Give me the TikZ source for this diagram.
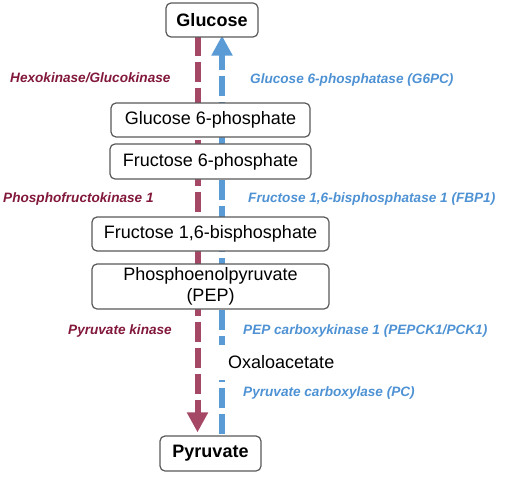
\documentclass[tikz,border=0pt]{standalone}
\usepackage{fontspec}
\setmainfont{Liberation Sans}
\usetikzlibrary{arrows.meta,backgrounds}
\definecolor{kinred}{RGB}{165,72,102}
\definecolor{kintext}{RGB}{130,24,58}
\definecolor{phosblue}{RGB}{91,155,213}
\definecolor{phostext}{RGB}{78,146,212}

\begin{document}
\begin{tikzpicture}[x=1pt,y=-1pt,
   metab/.style={draw=black!65,line width=1.2pt,rounded corners=5pt,fill=white,inner sep=0pt,align=center,font=\fontsize{18}{21.5}\selectfont},
   enzred/.style={anchor=west,inner sep=0pt,text=kintext,font=\fontsize{13.6}{16}\selectfont\bfseries\itshape},
   enzblue/.style={anchor=west,inner sep=0pt,text=phostext,font=\fontsize{13.6}{16}\selectfont\bfseries\itshape},
   glyco/.style={draw=kinred,line width=6pt,dash pattern=on 20pt off 6pt,-{Triangle[width=20pt,length=20pt]}},
   gluconeo/.style={draw=phosblue,line width=6pt,dash pattern=on 20pt off 6pt,-{Triangle[width=20pt,length=20pt]}}]
   \useasboundingbox (0,0) rectangle (510,476);
   % metabolites
   \node[metab,minimum width=92pt,minimum height=34pt,font=\fontsize{18}{21.5}\selectfont\bfseries] (glc) at (212,20) {Glucose};
   \node[metab,minimum width=199pt,minimum height=34pt] (g6p) at (210.5,120) {Glucose 6-phosphate};
   \node[metab,minimum width=201pt,minimum height=35pt] (f6p) at (210.5,161.5) {Fructose 6-phosphate};
   \node[metab,minimum width=237pt,minimum height=34pt] (fbp) at (210.5,234) {Fructose 1,6-bisphosphate};
   \node[metab,minimum width=237pt,minimum height=45pt] (pep) at (210.5,286.5) {Phosphoenolpyruvate\\(PEP)};
   \node[metab,minimum width=101pt,minimum height=35pt,font=\fontsize{18}{21.5}\selectfont\bfseries] (pyr) at (210.5,453.5) {Pyruvate};
   \node[anchor=west,fill=white,inner xsep=13pt,inner ysep=11pt,font=\fontsize{18}{21.5}\selectfont] (oaa) at (215,362.5) {Oxaloacetate};
   % enzymes
   \node[enzred] (hk) at (10,78) {Hexokinase/Glucokinase};
   \node[enzblue] (g6pc) at (250,80) {Glucose 6-phosphatase (G6PC)};
   \node[enzred] (pfk) at (3,199) {Phosphofructokinase 1};
   \node[enzblue] (fbpase) at (248,199) {Fructose 1,6-bisphosphatase 1 (FBP1)};
   \node[enzred] (pk) at (68,331) {Pyruvate kinase};
   \node[enzblue] (pck) at (243,331) {PEP carboxykinase 1 (PEPCK1/PCK1)};
   \node[enzblue] (pc) at (243,393) {Pyruvate carboxylase (PC)};
   % pathways behind the boxes
   \begin{pgfonlayer}{background}
   \draw[glyco] ([xshift=-14.5pt,yshift=2pt]glc.south) -- ([xshift=-14.5pt,yshift=3pt]glc.south |- pyr.north);
   \draw[gluconeo] ([xshift=10pt,yshift=1pt]glc.south |- pyr.north) -- ([xshift=10pt,yshift=2pt]glc.south);
   \end{pgfonlayer}
\end{tikzpicture}
\end{document}
